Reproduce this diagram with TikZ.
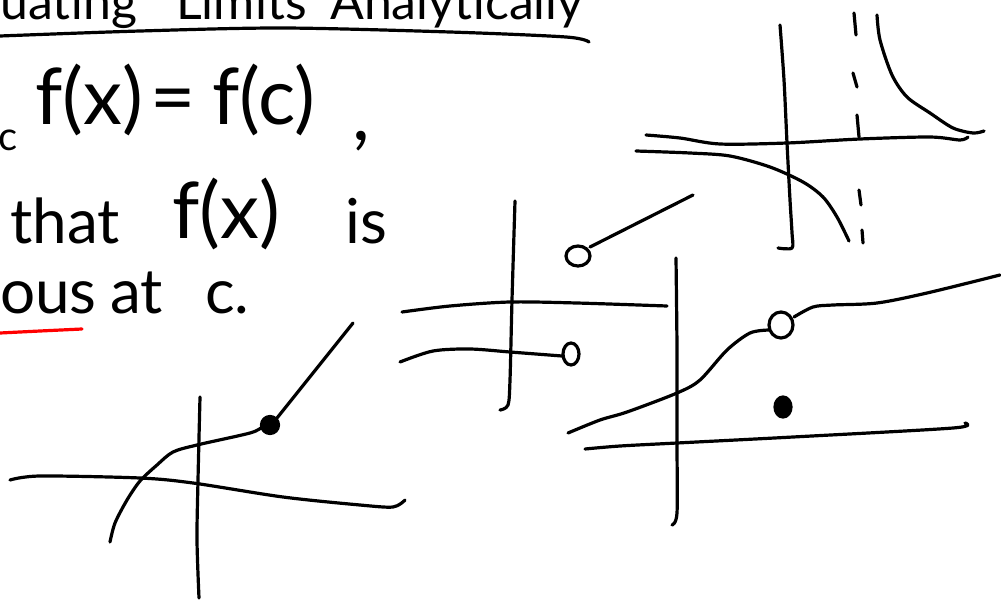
\documentclass[tikz,border=0pt]{standalone}
\usepackage{fontspec}
\setmainfont{Lato}
\usetikzlibrary{positioning}

\begin{document}
\begin{tikzpicture}[x=1pt, y=-1pt,
  pen/.style={line width=3.2pt, line cap=round, line join=round},
  txt/.style={inner sep=0pt, anchor=base west, font=\fontsize{62}{62}\selectfont},
  bigtxt/.style={txt, font=\fontsize{78}{78}\selectfont},
  headtxt/.style={txt, font=\fontsize{50}{50}\selectfont},
  subtxt/.style={txt, font=\fontsize{40}{40}\selectfont},
  hole/.style={pen, fill=white},
  dot/.style={pen, fill=black}]
\useasboundingbox (0,0) rectangle (1001,600);
\clip (0,0) rectangle (1001,600);

\node[headtxt] (uating) at (0,19) {uating};
\node[headtxt] (limits) at (176,19) {Limits};
\node[headtxt] (analyt) at (330,19) {Analytically};
\draw[pen] plot[smooth] coordinates {(0,36) (140,31) (283,28) (450,32) (566,37) (589,42)};

\node[subtxt] (sub) at (-2,150) {c};
\node[bigtxt] (fx) at (35,124) {f(x)};
\node[bigtxt] (eq) at (150,124) {=};
\node[bigtxt] (fc) at (212,124) {f(c)};
\node[bigtxt] (comma) at (352,140) {,};

\node[txt] (that) at (10,243) {that};
\node[bigtxt] (fx2) at (172,238) {f(x)};
\node[txt] (is) at (345,243) {is};

\node[txt] (ous) at (0,313) {ous};
\node[txt] (at) at (110,313) {at};
\node[txt] (cdot) at (205,313) {c.};
\draw[pen, red] plot[smooth] coordinates {(0,333) (40,331) (82,329)};

\draw[pen] plot[smooth] coordinates {(200,397) (198,480) (197,540) (199,598)};
\draw[pen] plot[smooth] coordinates {(10,480) (40,476) (140,478) (193,483) (283,497) (360,505) (393,507) (405,500)};
\draw[pen] plot[smooth] coordinates {(110,542) (115,523) (127,500) (140,481) (157,465) (173,452) (197,445) (250,433) (262,427)};
\draw[dot] (270,425) circle[radius=8.5];
\draw[pen] (277,418) -- (353,323);

\draw[pen] plot[smooth] coordinates {(515,201) (512,300) (510,380) (508,405) (500,410)};
\draw[pen] plot[smooth] coordinates {(402,312) (450,306) (510,302) (577,303) (667,306)};
\draw[pen] plot[smooth] coordinates {(400,362) (433,351) (470,349) (510,352) (562,356)};
\draw[hole] (571,354) ellipse[x radius=8, y radius=11];
\draw[hole] (578,256) ellipse[x radius=12, y radius=10];
\draw[pen] (590,247) -- (693,195);

\draw[pen] plot[smooth] coordinates {(780,25) (784,80) (787,143) (790,200) (792,233) (792,248) (778,248)};
\draw[pen] plot[smooth] coordinates {(646,135) (680,138) (720,144) (787,143) (860,139) (930,137) (960,140) (968,137)};
\draw[pen] plot[smooth] coordinates {(636,151) (690,153) (730,156) (770,167) (803,182) (823,197) (837,217) (849,241)};
\draw[pen] (854,13) -- (856,35) (853,73) -- (857,87) (857,115) -- (859,137) (859,190) -- (861,205) (862,230) -- (863,243);
\draw[pen] plot[smooth] coordinates {(877,15) (880,40) (892,75) (907,97) (930,113) (953,128) (973,133) (984,131)};

\draw[pen] plot[smooth] coordinates {(676,258) (677,350) (677,443) (677,513) (672,525)};
\draw[pen] plot[smooth] coordinates {(585,449) (620,446) (677,443) (793,437) (953,428) (965,423)};
\draw[pen] plot[smooth] coordinates {(568,433) (600,420) (627,412) (677,393) (700,380) (727,350) (750,333) (769,330)};
\draw[hole] (781,325) ellipse[x radius=12, y radius=13];
\draw[pen] plot[smooth] coordinates {(794,317) (813,307) (833,305) (877,303) (927,293) (1000,275)};
\draw[dot] (783,407) ellipse[x radius=8, y radius=10];
\end{tikzpicture}
\end{document}
